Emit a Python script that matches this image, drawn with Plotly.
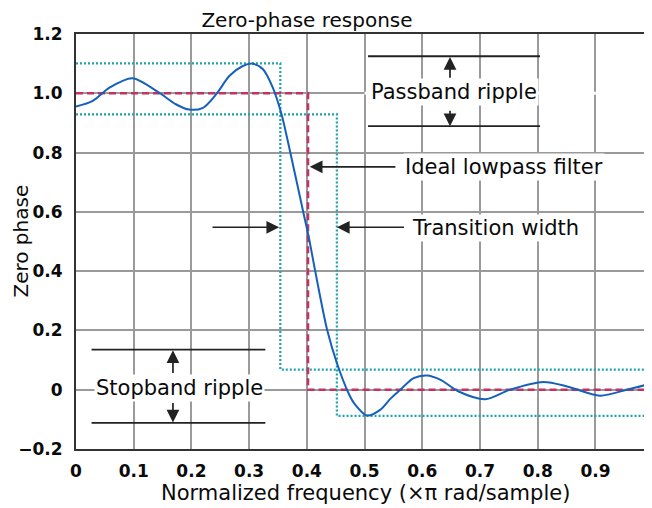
import plotly.graph_objects as go

# ---- data ----
freq = [0.000, 0.029, 0.058, 0.098, 0.144, 0.173, 0.196, 0.220, 0.243, 0.266,
        0.289, 0.306, 0.324, 0.341, 0.356, 0.371, 0.394, 0.403, 0.414, 0.435,
        0.452, 0.472, 0.482, 0.504, 0.527, 0.545, 0.562, 0.585, 0.608, 0.631,
        0.663, 0.709, 0.752, 0.810, 0.851, 0.908, 0.954, 0.995]
zero_phase = [0.955, 0.974, 1.019, 1.051, 1.002, 0.963, 0.945, 0.951, 0.997, 1.059,
              1.092, 1.100, 1.081, 1.019, 0.930, 0.803, 0.597, 0.518, 0.405, 0.203,
              0.090, -0.011, -0.046, -0.087, -0.068, -0.030, 0.000, 0.039, 0.048, 0.034,
              -0.006, -0.032, 0.000, 0.026, 0.011, -0.020, 0.000, 0.020]

ideal_x = [0.0, 0.402, 0.402, 1.0]
ideal_y = [1.0, 1.0, 0.0, 0.0]

upper_tol_x = [0.0, 0.354, 0.354, 1.0]
upper_tol_y = [1.101, 1.101, 0.068, 0.068]
lower_tol_x = [0.0, 0.452, 0.452, 1.0]
lower_tol_y = [0.929, 0.929, -0.088, -0.088]

y_ticks = [1.2, 1.0, 0.8, 0.6, 0.4, 0.2, 0.0, -0.2]
y_tick_labels = ["1.2", "1.0", "0.8", "0.6", "0.4", "0.2", "0", "\u22120.2"]
x_ticks = [0.0, 0.1, 0.2, 0.3, 0.4, 0.5, 0.6, 0.7, 0.8, 0.9]
x_tick_labels = ["0", "0.1", "0.2", "0.3", "0.4", "0.5", "0.6", "0.7", "0.8", "0.9"]

FONT = "DejaVu Sans"
INK = "#0a0a0a"

fig = go.Figure()

fig.add_trace(go.Scatter(x=upper_tol_x, y=upper_tol_y, mode="lines",
                         line=dict(color="#1ea3ae", width=2.2, dash="2px,2px"),
                         hoverinfo="skip", showlegend=False))
fig.add_trace(go.Scatter(x=lower_tol_x, y=lower_tol_y, mode="lines",
                         line=dict(color="#1ea3ae", width=2.2, dash="2px,2px"),
                         hoverinfo="skip", showlegend=False))
fig.add_trace(go.Scatter(x=ideal_x, y=ideal_y, mode="lines",
                         line=dict(color="#c4325f", width=2.5, dash="7px,4px"),
                         hoverinfo="skip", showlegend=False))
fig.add_trace(go.Scatter(x=freq, y=zero_phase, mode="lines",
                         line=dict(color="#1560bd", width=2, shape="spline", smoothing=0.8),
                         showlegend=False))

shapes = []
# hide the 1.0 gridline to the right (as in reference)
shapes.append(dict(type="line", xref="x", yref="y", x0=0.5, x1=1.0, y0=1.0, y1=1.0,
                   line=dict(color="white", width=3), layer="between"))
# ripple marker lines
for y in (1.125, 0.889):
    shapes.append(dict(type="line", xref="x", yref="y", x0=0.506, x1=0.804, y0=y, y1=y,
                       line=dict(color="#222", width=1.8)))
for y in (0.135, -0.112):
    shapes.append(dict(type="line", xref="x", yref="y", x0=0.027, x1=0.328, y0=y, y1=y,
                       line=dict(color="#222", width=1.8)))

annotations = []

def arrow(tx, ty, fx, fy):
    annotations.append(dict(x=tx, y=ty, ax=fx, ay=fy, xref="x", yref="y",
                            axref="x", ayref="y", text="", showarrow=True,
                            arrowhead=2, arrowsize=1.5, arrowwidth=1.7,
                            arrowcolor="#222"))

arrow(0.405, 0.752, 0.556, 0.752)   # ideal lowpass
arrow(0.452, 0.548, 0.571, 0.548)   # transition width right
arrow(0.352, 0.548, 0.234, 0.548)   # transition width left
arrow(0.648, 1.122, 0.648, 1.047)   # passband up
arrow(0.648, 0.889, 0.648, 0.946)   # passband down
arrow(0.168, 0.133, 0.168, 0.051)   # stopband up
arrow(0.168, -0.111, 0.168, -0.040) # stopband down

def label(text, x, y):
    annotations.append(dict(x=x, y=y, xref="x", yref="y", text=text, showarrow=False,
                            bgcolor="white", borderpad=1,
                            font=dict(family=FONT, size=21, color=INK)))

label("Passband ripple", 0.655, 1.003)
label("Ideal lowpass filter", 0.742, 0.752)
label("Transition width", 0.726, 0.547)
label("Stopband ripple", 0.179, 0.006)

# axis titles
annotations.append(dict(x=-0.0972, y=0.5, xref="paper", yref="paper", text="Zero phase",
                        textangle=-90, showarrow=False, xanchor="center", yanchor="middle",
                        font=dict(family=FONT, size=20, color=INK)))
annotations.append(dict(x=0.502, y=-0.106, xref="paper", yref="paper",
                        text="Normalized frequency (\u00d7\u03c0 rad/sample)",
                        showarrow=False, xanchor="center", yanchor="middle",
                        font=dict(family=FONT, size=21, color=INK)))

# the page adds an 8 px body margin, so the figure is 8 px smaller and margins shifted
fig.update_layout(
    width=644, height=500,
    margin=dict(l=68, r=0, t=26, b=59),
    paper_bgcolor="white", plot_bgcolor="white",
    title=dict(text="Zero-phase response", x=(307 - 8) / 644, xanchor="center",
               y=1 - 12 / 500, yanchor="middle", yref="container",
               font=dict(family=FONT, size=20, color=INK)),
    shapes=shapes, annotations=annotations,
    xaxis=dict(range=[0, 0.998], tickvals=x_ticks, ticktext=x_tick_labels,
               showgrid=True, gridcolor="#9a9a9a", gridwidth=2,
               showline=True, linecolor="#333", linewidth=2, mirror=True,
               zeroline=False, ticks="", ticklabelstandoff=6,
               tickfont=dict(family=FONT, size=17, color=INK, weight="bold")),
    yaxis=dict(range=[-0.2, 1.2], tickvals=y_ticks, ticktext=y_tick_labels,
               showgrid=True, gridcolor="#9a9a9a", gridwidth=2,
               showline=True, linecolor="#333", linewidth=2, mirror=False,
               zeroline=False, ticks="", ticklabelstandoff=8,
               tickfont=dict(family=FONT, size=17, color=INK, weight="bold")),
)

fig.write_html("out.html")
